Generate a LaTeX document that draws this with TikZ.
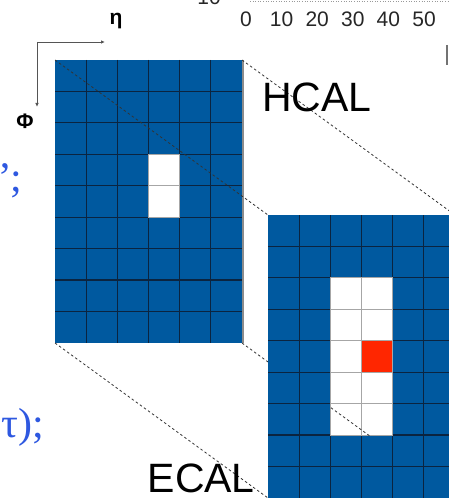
\documentclass[tikz,border=0pt]{standalone}
\usepackage{fontspec}
\setmainfont{Liberation Sans}
\newfontfamily\slidefont{Liberation Serif}
\usetikzlibrary{arrows.meta,calc}
\definecolor{calblue}{HTML}{00599F}
\definecolor{hitred}{HTML}{FF2600}
\definecolor{slideblue}{HTML}{2E58E0}
\definecolor{frameline}{HTML}{555555}
\definecolor{celledge}{HTML}{0B2440}

\begin{document}
\begin{tikzpicture}[x=1pt,y=-1pt,
calbox/.style={minimum width=187pt,minimum height=283pt,inner sep=0pt,outer sep=0pt,anchor=north west},
cellline/.style={draw=celledge,line width=1.2pt},
paleline/.style={draw=black!35,line width=.8pt},
proj/.style={draw=black!80,line width=.8pt,dash pattern=on 2.5pt off 2.5pt},
axis/.style={-{Latex[length=4pt,width=3.5pt]},line width=.8pt,draw=frameline},
tick/.style={font=\fontsize{21}{21}\selectfont,text=black!85,inner sep=0pt,anchor=base},
calname/.style={font=\fontsize{41}{41}\selectfont,inner sep=0pt},
axisname/.style={font=\bfseries\fontsize{21}{21}\selectfont,inner sep=0pt},
slidetext/.style={font=\slidefont\fontsize{42}{42}\selectfont,text=slideblue,inner sep=0pt}]
\useasboundingbox (0,0) rectangle (448,500);
\node[calbox] (hcal) at (55,60) {};
\node[calbox] (ecal) at (268,215) {};
\begin{scope}[shift={(hcal.north west)},x=31.17pt,y=-31.44pt]
\fill[calblue] (0,0) rectangle (6,9);
\foreach \c in {1,...,5} \draw[cellline] (\c,0) -- (\c,9);
\foreach \r in {1,...,8} \draw[cellline] (0,\r) -- (6,\r);
\fill[white] (3,3) rectangle (4,5);
\draw[paleline] (3,3) rectangle (4,5) (3,4) -- (4,4);
\end{scope}
\draw[draw=black!45,line width=1.6pt] ([xshift=.8pt]hcal.north east) -- ([xshift=.8pt]hcal.south east);
\draw[proj] (hcal.north west) -- (ecal.north west);
\draw[proj] (hcal.north east) -- (ecal.north east);
\draw[proj] (hcal.south west) -- (ecal.south west);
\draw[proj] (hcal.south east) -- (ecal.south east);
\begin{scope}[shift={(ecal.north west)},x=31.17pt,y=-31.44pt]
\fill[calblue] (0,0) rectangle (6,9);
\foreach \c in {1,...,5} \draw[cellline] (\c,0) -- (\c,9);
\foreach \r in {1,...,8} \draw[cellline] (0,\r) -- (6,\r);
\fill[white] (2,2) rectangle (4,7);
\fill[hitred] (3,4) rectangle (4,5);
\draw[paleline] (2,2) rectangle (4,7) (3,2) -- (3,7);
\foreach \r in {3,...,6} \draw[paleline] (2,\r) -- (4,\r);
\clip (2,2) rectangle (4,7);
\draw[proj] (hcal.south east) -- (ecal.south east);
\end{scope}
\node[calname,anchor=base west] (hcalname) at (262,112) {HCAL};
\node[calname,anchor=base east] (ecalname) at (255,492) {ECAL};
\coordinate (origin) at (37,42);
\coordinate (etatip) at (105,42);
\coordinate (phitip) at (37,107);
\draw[axis] (origin) -- (etatip);
\draw[axis] (origin) -- (phitip);
\node[axisname] (eta) at (116,21) {η};
\node[axisname] (phi) at (25,121) {Φ};
\draw[black!40,dotted,line width=.6pt] (250,1) -- (448,1);
\node[tick] (topten) at (209,5) {10};
\foreach \v [count=\k from 0] in {0,10,20,30,40,50}
  \node[tick] (tick\k) at (246+35.6*\k,27) {\v};
\draw[black!55,line width=2pt] (447,45) -- (447,65);
\node[slidetext,anchor=base east] (quoteend) at (22,191) {”;};
\node[slidetext,anchor=base west] (taupart) at (1,437) {τ);};
\end{tikzpicture}
\end{document}
